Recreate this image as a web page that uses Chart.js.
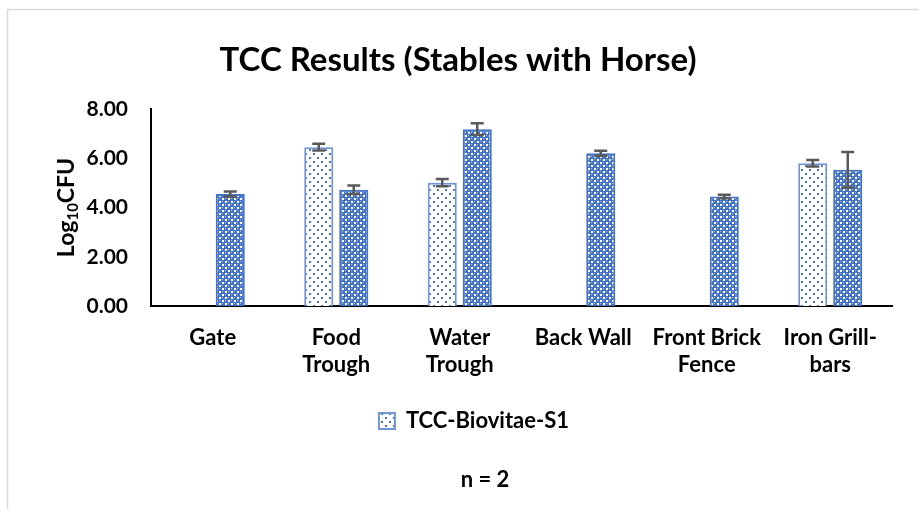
<!DOCTYPE html>
<html>
<head>
<meta charset="utf-8">
<script src="https://cdn.jsdelivr.net/npm/chart.js"></script>
<style>
  html, body { margin: 0; padding: 0; background: #fff; }
</style>
</head>
<body>
<canvas id="tccChart" width="919" height="509"></canvas>
<script>
// chart data
const categories = ['Gate', ['Food', 'Trough'], ['Water', 'Trough'], 'Back Wall', ['Front Brick', 'Fence'], ['Iron Grill-', 'bars']];
const seriesNames = ['TCC-Biovitae-S1', 'TCC-Biovitae-S2'];
const s1Values = [null, 6.45, 5.01, null, null, 5.80];
const s1Errors = [null, 0.14, 0.15, null, null, 0.13];
const s2Values = [4.55, 4.72, 7.18, 6.20, 4.45, 5.53];
const s2Errors = [0.10, 0.17, 0.24, 0.10, 0.07, 0.72];
const yTicks = [0, 2, 4, 6, 8];

const FONT = 'Lato';

// white with blue dots
function makeDotPattern() {
    const c = document.createElement('canvas');
    c.width = 8; c.height = 8;
    const g = c.getContext('2d');
    g.fillStyle = '#ffffff';
    g.fillRect(0, 0, 8, 8);
    g.fillStyle = '#4472C4';
    g.fillRect(1, 1, 2, 2);
    g.fillRect(5, 5, 2, 2);
    return g.createPattern(c, 'repeat');
}

// dense blue check with white specks
function makeCheckPattern() {
    const c = document.createElement('canvas');
    c.width = 6; c.height = 6;
    const g = c.getContext('2d');
    g.fillStyle = '#4472C4';
    g.fillRect(0, 0, 6, 6);
    g.fillStyle = '#ffffff';
    g.fillRect(0, 0, 2, 2);
    g.fillRect(3, 3, 2, 2);
    g.fillStyle = '#A9BEE6';
    g.fillRect(3, 0, 1, 1);
    g.fillRect(0, 3, 1, 1);
    return g.createPattern(c, 'repeat');
}

// light grey frame like the excel chart area
const framePlugin = {
    id: 'frame',
    beforeDraw(chart) {
        const ctx = chart.ctx;
        ctx.save();
        ctx.fillStyle = '#ffffff';
        ctx.fillRect(0, 0, chart.width, chart.height);
        ctx.strokeStyle = '#D9D9D9';
        ctx.lineWidth = 1.5;
        ctx.strokeRect(7.5, 9.5, chart.width + 10, chart.height + 10);
        ctx.restore();
    }
};

// error bars drawn from the dataset errors
const errorBarPlugin = {
    id: 'errorBars',
    afterDatasetsDraw(chart) {
        const ctx = chart.ctx;
        const yScale = chart.scales.y;
        chart.data.datasets.forEach((ds, i) => {
            const meta = chart.getDatasetMeta(i);
            meta.data.forEach((bar, j) => {
                const v = ds.data[j];
                const e = ds.errors[j];
                if (v == null || e == null) return;
                const yTop = yScale.getPixelForValue(v + e);
                const yBot = yScale.getPixelForValue(v - e);
                ctx.save();
                ctx.strokeStyle = '#595959';
                ctx.lineWidth = 2.5;
                ctx.beginPath();
                ctx.moveTo(bar.x, yTop); ctx.lineTo(bar.x, yBot);
                ctx.moveTo(bar.x - 6.5, yTop); ctx.lineTo(bar.x + 6.5, yTop);
                ctx.moveTo(bar.x - 6.5, yBot); ctx.lineTo(bar.x + 6.5, yBot);
                ctx.stroke();
                ctx.restore();
            });
        });
    }
};

// y axis title with subscript 10
const yTitlePlugin = {
    id: 'yTitle',
    afterDraw(chart) {
        const ctx = chart.ctx;
        const area = chart.chartArea;
        const big = 'bold 23px ' + FONT;
        const small = 'bold 15px ' + FONT;
        ctx.save();
        ctx.fillStyle = '#000';
        ctx.textBaseline = 'middle';
        ctx.font = big;
        const w1 = ctx.measureText('Log').width;
        const w3 = ctx.measureText('CFU').width;
        ctx.font = small;
        const w2 = ctx.measureText('10').width;
        ctx.translate(67, (area.top + area.bottom) / 2);
        ctx.rotate(-Math.PI / 2);
        let x = -(w1 + w2 + w3) / 2;
        ctx.font = big;
        ctx.fillText('Log', x, 0);
        x += w1;
        ctx.font = small;
        ctx.fillText('10', x, 6);
        x += w2;
        ctx.font = big;
        ctx.fillText('CFU', x, 0);
        ctx.restore();
    }
};

// nudge title / legend / note sideways to where excel put them
const shiftPlugin = {
    id: 'boxShift',
    afterLayout(chart) {
        chart.boxes.forEach(b => {
            let dx = 0;
            if (b === chart.titleBlock) dx = 12;
            else if (b === chart.legend) dx = 28;
            else if (b.options && b.options.text === 'n = 2') dx = 39;
            b.left += dx;
            b.right += dx;
        });
    }
};

const ctx = document.getElementById('tccChart').getContext('2d');
new Chart(ctx, {
    type: 'bar',
    data: {
        labels: categories,
        datasets: [
            {
                label: seriesNames[0],
                data: s1Values,
                errors: s1Errors,
                backgroundColor: makeDotPattern(),
                borderColor: '#7094D4',
                borderWidth: 2,
                categoryPercentage: 0.567,
                barPercentage: 0.83
            },
            {
                label: seriesNames[1],
                data: s2Values,
                errors: s2Errors,
                backgroundColor: makeCheckPattern(),
                borderColor: '#4472C4',
                borderWidth: 2,
                categoryPercentage: 0.567,
                barPercentage: 0.83
            }
        ]
    },
    options: {
        responsive: false,
        animation: false,
        layout: { padding: { left: 0, right: 27, top: 0, bottom: 0 } },
        plugins: {
            title: {
                display: true,
                text: 'TCC Results (Stables with Horse)',
                color: '#000',
                font: { family: FONT, size: 33, weight: 'bold', lineHeight: 1.2 },
                padding: { top: 40.2, bottom: 29.2 }
            },
            subtitle: {
                display: true,
                position: 'bottom',
                text: 'n = 2',
                color: '#000',
                font: { family: FONT, size: 22, weight: 'bold', lineHeight: 1.2 },
                padding: { top: 24.8, bottom: 15.8 }
            },
            legend: {
                position: 'bottom',
                labels: {
                    filter: item => item.datasetIndex === 0,
                    boxWidth: 16,
                    boxHeight: 16,
                    padding: 10,
                    color: '#000',
                    font: { family: FONT, size: 22, weight: 'bold' }
                }
            },
            tooltip: { enabled: false }
        },
        scales: {
            x: {
                grid: { display: false, drawTicks: false },
                border: { display: true, color: '#000', width: 2 },
                ticks: {
                    color: '#000',
                    padding: 18,
                    maxRotation: 0,
                    autoSkip: false,
                    font: { family: FONT, size: 22, weight: 'bold', lineHeight: 1.25 }
                },
                afterFit: s => { s.height = 94; }
            },
            y: {
                min: 0,
                max: 8,
                afterBuildTicks: s => { s.ticks = yTicks.map(v => ({ value: v })); },
                grid: { display: false, drawTicks: false },
                border: { display: true, color: '#000', width: 2 },
                ticks: {
                    color: '#000',
                    padding: 23,
                    callback: v => Number(v).toFixed(2),
                    font: { family: FONT, size: 21, weight: 'bold' }
                },
                afterFit: s => { s.width = 151; }
            }
        }
    },
    plugins: [framePlugin, errorBarPlugin, yTitlePlugin, shiftPlugin]
});
</script>
</body>
</html>
